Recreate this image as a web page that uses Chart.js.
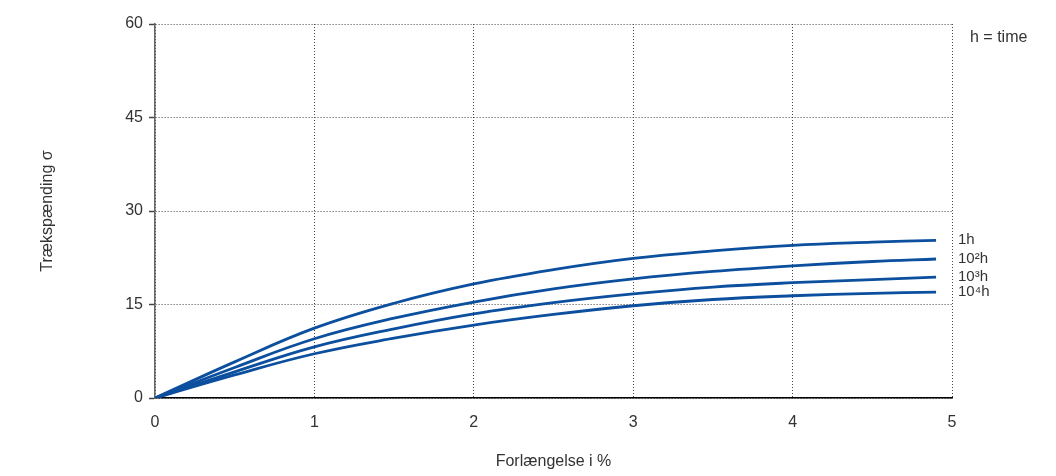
<!DOCTYPE html>
<html>
<head>
<meta charset="utf-8">
<script src="https://cdn.jsdelivr.net/npm/chart.js@4/dist/chart.umd.min.js"></script>
<style>
html,body{margin:0;padding:0;background:#fff;}
#wrap{width:1056px;height:476px;}
</style>
</head>
<body>
<div id="wrap"><canvas id="c" width="1056" height="476"></canvas></div>
<script>
const xValues = [0, 0.5, 1, 1.5, 2, 2.5, 3, 3.5, 4, 4.5, 4.9];
const s1h  = [0, 5.8, 11.2, 15.2, 18.3, 20.6, 22.4, 23.6, 24.5, 25.0, 25.3];
const s2h  = [0, 4.9, 9.5, 12.8, 15.4, 17.5, 19.1, 20.3, 21.2, 21.9, 22.3];
const s3h  = [0, 4.2, 8.2, 11.1, 13.5, 15.3, 16.7, 17.8, 18.5, 19.0, 19.4];
const s4h  = [0, 3.7, 7.1, 9.6, 11.7, 13.4, 14.8, 15.8, 16.4, 16.8, 17.0];
const seriesLabels = ['1h', '10²h', '10³h', '10⁴h'];
const yTicks = [0, 15, 30, 45, 60];
const xTicks = [0, 1, 2, 3, 4, 5];
const noteText = 'h = time';
const xTitle = 'Forlængelse i %';
const yTitle = 'Trækspænding σ';

const lineColor = '#0b4f9e';
const font = "'Liberation Sans', Arial, sans-serif";

function mk(vals, label) {
  return {
    label,
    data: xValues.map((x, i) => ({x, y: vals[i]})),
    borderColor: lineColor,
    borderWidth: 2.8,
    pointRadius: 0,
    fill: false,
    tension: 0.4
  };
}

const endLabels = {
  id: 'endLabels',
  afterDatasetsDraw(chart) {
    const {ctx, scales: {x, y}} = chart;
    ctx.save();
    ctx.fillStyle = '#333';
    ctx.font = '15px ' + font;
    ctx.textBaseline = 'middle';
    ctx.textAlign = 'left';
    const px = x.getPixelForValue(5) + 6;
    chart.data.datasets.forEach((ds, i) => {
      const last = ds.data[ds.data.length - 1];
      ctx.fillText(ds.label, px, y.getPixelForValue(last.y));
    });
    ctx.font = '16px ' + font;
    ctx.fillText(noteText, x.getPixelForValue(5) + 18, y.getPixelForValue(60) + 14);
    ctx.restore();
  }
};

new Chart(document.getElementById('c'), {
  type: 'line',
  data: {
    datasets: [mk(s1h, seriesLabels[0]), mk(s2h, seriesLabels[1]), mk(s3h, seriesLabels[2]), mk(s4h, seriesLabels[3])]
  },
  options: {
    responsive: false,
    animation: false,
    layout: {padding: {top: 24, right: 104, left: 0, bottom: 0}},
    plugins: {legend: {display: false}, tooltip: {enabled: false}},
    scales: {
      x: {
        type: 'linear',
        min: 0, max: 5,
        afterFit(s) { s.height = 78; },
        afterBuildTicks(s) { s.ticks = xTicks.map(v => ({value: v})); },
        ticks: {color: '#333', font: {family: font, size: 16}, padding: 15, maxRotation: 0},
        grid: {color: '#444', lineWidth: 1, drawTicks: false},
        border: {color: '#000', width: 1.6, dash: [1, 2]},
        title: {display: true, text: xTitle, color: '#333', font: {family: font, size: 16}, padding: {top: 0, bottom: 5}}
      },
      y: {
        type: 'linear',
        min: 0, max: 60,
        afterFit(s) { s.width = 155; },
        afterBuildTicks(s) { s.ticks = yTicks.map(v => ({value: v})); },
        ticks: {color: '#333', font: {family: font, size: 16}, padding: 6},
        grid: {color: '#444', lineWidth: 1, drawTicks: true, tickLength: 6, tickBorderDash: [], tickColor: '#444', tickWidth: 1.5},
        border: {color: '#666', width: 1.6, dash: [1, 2]},
        title: {display: true, text: yTitle, color: '#333', font: {family: font, size: 16}, padding: {top: 38, bottom: 0}}
      }
    }
  },
  plugins: [endLabels]
});
</script>
</body>
</html>
